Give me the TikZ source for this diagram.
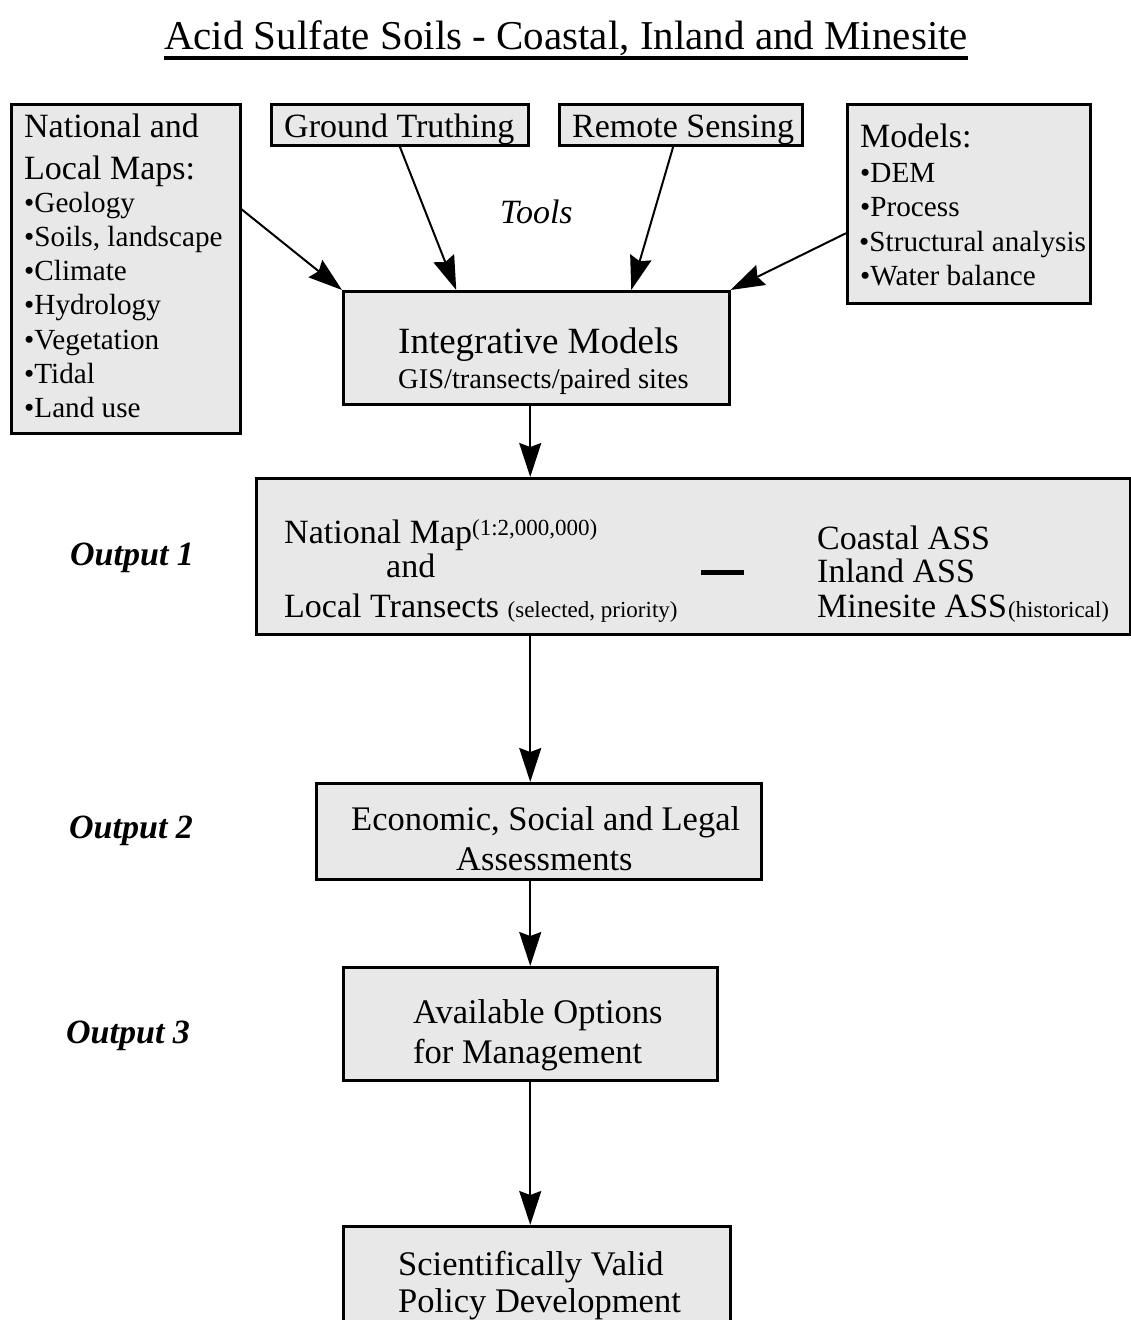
\documentclass[tikz,border=0pt]{standalone}
\usepackage{fontspec}
\setmainfont{Liberation Serif}
\usetikzlibrary{arrows.meta}
\definecolor{boxgray}{RGB}{232,232,232}
\newcommand{\myfs}[1]{\fontsize{#1}{#1}\selectfont}
\begin{document}
\begin{tikzpicture}[x=1pt,y=-1pt,
  box/.style={draw=black, fill=boxgray, line width=2.5pt, inner sep=0pt, anchor=north west},
  txt/.style={anchor=base west, inner sep=0pt, font=\myfs{34}},
  itm/.style={anchor=base west, inner sep=0pt, font=\myfs{29.2}},
  outl/.style={anchor=base west, inner sep=0pt, font=\myfs{34}\bfseries\itshape},
  arr/.style={line width=2pt, -{Stealth[length=34pt,width=22pt,inset=4pt]}},
]
\useasboundingbox (0,0) rectangle (1131,1320);
\clip (0,0) rectangle (1131,1320);

% title
\node[anchor=base, inner sep=0pt, font=\myfs{41}] (ttl) at (566,49) {Acid Sulfate Soils - Coastal, Inland and Minesite};
\draw[line width=3.5pt] ([yshift=-2.5pt]ttl.south west) -- ([yshift=-2.5pt]ttl.south east);

% boxes
\node[box, minimum width=229pt, minimum height=329pt] (maps) at (10,103) {};
\node[box, minimum width=257pt, minimum height=41pt] (gt) at (270,103) {};
\node[box, minimum width=243pt, minimum height=41pt] (rs) at (558,103) {};
\node[box, minimum width=243pt, minimum height=199pt] (models) at (846,103) {};
\node[box, minimum width=386pt, minimum height=113pt] (integ) at (342,290) {};
\node[box, minimum width=874pt, minimum height=156pt] (o1) at (255,477) {};
\node[box, minimum width=445pt, minimum height=96pt] (o2) at (315,782) {};
\node[box, minimum width=374pt, minimum height=113pt] (o3) at (342,966) {};
\node[box, minimum width=387pt, minimum height=120pt] (pol) at (342,1225) {};

% maps text
\node[txt] (m1) at (24,137) {National and};
\node[txt] (m2) at (24,179) {Local Maps:};
\node[itm] (m3) at (24,212) {•Geology};
\node[itm] (m4) at (24,246.3) {•Soils, landscape};
\node[itm] (m5) at (24,280.6) {•Climate};
\node[itm] (m6) at (24,314.9) {•Hydrology};
\node[itm] (m7) at (24,349.2) {•Vegetation};
\node[itm] (m8) at (24,383.5) {•Tidal};
\node[itm] (m9) at (24,417.8) {•Land use};

\node[txt] (gtt) at (284,137) {Ground Truthing};
\node[txt] (rst) at (572,137) {Remote Sensing};

\node[txt] (md0) at (860,147) {Models:};
\node[itm] (md1) at (860,182) {•DEM};
\node[itm] (md2) at (860,216.5) {•Process};
\node[itm] (md3) at (859,251) {•Structural analysis};
\node[itm] (md4) at (860,285.5) {•Water balance};

\node[txt, font=\myfs{34}\itshape] (tools) at (500,223) {Tools};

\node[txt, font=\myfs{37}] (it1) at (398,353) {Integrative Models};
\node[txt, font=\myfs{28.5}] (it2) at (398,388) {GIS/transects/paired sites};

% output 1
\node[txt] (n1) at (284,543) {National Map\raisebox{8pt}{\myfs{23}(1:2,000,000)}};
\node[txt] (n2) at (386,577) {and};
\node[txt] (n3) at (284,617) {Local Transects {\myfs{23}(selected, priority)}};
\fill (701,570) rectangle (744,575);
\node[txt] (c1) at (817,549) {Coastal ASS};
\node[txt] (c2) at (817,582) {Inland ASS};
\node[txt] (c3) at (817,617) {Minesite ASS\kern1pt{\myfs{23}(historical)}};

% output 2, 3, policy
\node[txt, font=\myfs{34.5}] (e1) at (351,830) {Economic, Social and Legal};
\node[txt, font=\myfs{34.5}] (e2) at (456,870) {Assessments};
\node[txt, font=\myfs{34.5}] (a1) at (413,1023) {Available Options};
\node[txt, font=\myfs{34.5}] (a2) at (413,1063) {for Management};
\node[txt, font=\myfs{34.5}] (p1) at (398,1275) {Scientifically Valid};
\node[txt, font=\myfs{34.5}] (p2) at (398,1312) {Policy Development};

% output labels
\node[outl] (ol1) at (70,565) {Output 1};
\node[outl] (ol2) at (69,838) {Output 2};
\node[outl] (ol3) at (66,1043) {Output 3};

% arrows
\draw[arr] ([yshift=59.5pt]maps.east) -- (integ.north west);
\draw[arr] (gt.south) -- ([xshift=-80pt]integ.north);
\draw[arr] ([xshift=-7.5pt]rs.south) -- ([xshift=95pt]integ.north);
\draw[arr] ([yshift=-29.5pt]models.west) -- (integ.north east);
\draw[arr] ([xshift=-6pt]integ.south) -- ([xshift=-163pt]o1.north);
\draw[arr] ([xshift=-163pt]o1.south) -- ([xshift=-8.5pt]o2.north);
\draw[arr] ([xshift=-8.5pt]o2.south) -- (o3.north);
\draw[arr] (o3.south) -- ([xshift=-6.5pt]pol.north);
\end{tikzpicture}
\end{document}
